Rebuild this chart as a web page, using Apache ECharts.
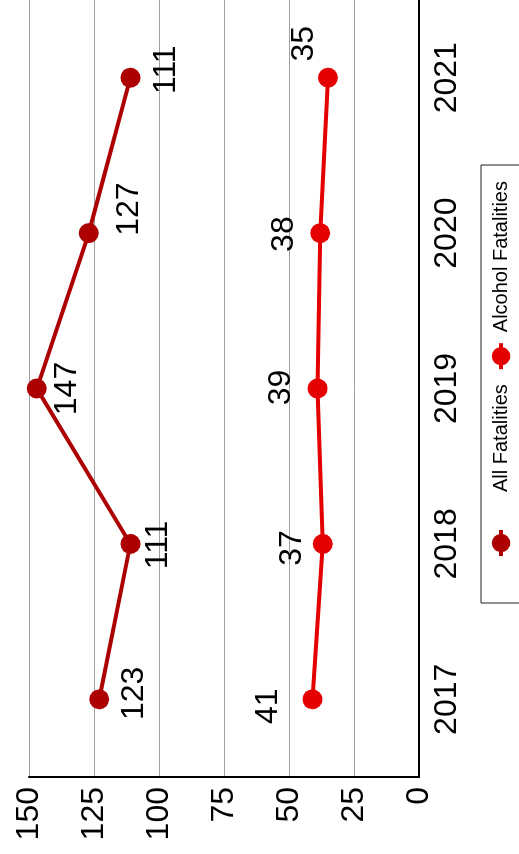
<!DOCTYPE html>
<html><head><meta charset="utf-8">
<script src="https://cdn.jsdelivr.net/npm/echarts@6/dist/echarts.min.js"></script>
<style>
html,body{margin:0;padding:0;width:519px;height:854px;overflow:hidden;background:#fff;}
#chart{position:absolute;left:0;top:0;width:854px;height:519px;transform-origin:0 0;transform:translate(0,854px) rotate(-90deg);}
</style></head><body><div id="chart"></div>
<script>
// ---- data ----
const years = ['2017', '2018', '2019', '2020', '2021'];
const allFatalities = [123, 111, 147, 127, 111];
const alcoholFatalities = [41, 37, 39, 38, 35];
const valueMin = 0, valueMax = 150, valueStep = 25;
const seriesNames = ['All Fatalities', 'Alcohol Fatalities'];

// ---- style ----
const FONT = 'Liberation Sans, Arial, sans-serif';
const allNudge = [[6, 1], [-1, -6], [0, -4], [24, 6], [8, 2]];
const alcNudge = [[-7, -10], [-4, 3], [1, -2], [-1, -2], [34, 10]];
const legendTextGap = [33, 6];

const chart = echarts.init(document.getElementById('chart'), null, {renderer: 'canvas', width: 854, height: 519});
chart.setOption({
  animation: false,
  backgroundColor: '#fff',
  grid: {left: 77, top: 29, width: 781, height: 390, containLabel: false},
  legend: {
    data: seriesNames.map((n, i) => ({name: n, textStyle: {padding: [0, 0, 0, legendTextGap[i]]}})),
    left: 251, top: 481,
    orient: 'horizontal',
    itemWidth: 26, itemHeight: 23, itemGap: 13,
    padding: [10, 16, 12, 45],
    borderColor: '#222', borderWidth: 1, borderRadius: 0,
    lineStyle: {width: 4},
    textStyle: {fontFamily: FONT, fontSize: 20, color: '#000'}
  },
  xAxis: {
    type: 'category', data: years, boundaryGap: true,
    axisLine: {show: true, lineStyle: {color: '#000', width: 2}},
    axisTick: {show: false},
    axisLabel: {fontFamily: FONT, fontSize: 32, color: '#000', margin: 12},
    splitLine: {show: false}
  },
  yAxis: {
    type: 'value', min: valueMin, max: valueMax, interval: valueStep,
    axisLine: {show: true, lineStyle: {color: '#000', width: 2}},
    axisTick: {show: false},
    axisLabel: {fontFamily: FONT, fontSize: 32, color: '#000', margin: 10},
    splitLine: {show: true, lineStyle: {color: '#a0a0a0', width: 1}}
  },
  series: [
    {
      name: seriesNames[0], type: 'line',
      data: allFatalities.map((v, i) => ({value: v, label: {offset: allNudge[i]}})),
      symbol: 'circle', symbolSize: 20,
      lineStyle: {color: '#ad0000', width: 4},
      itemStyle: {color: '#ad0000'},
      label: {show: true, position: 'bottom', distance: 8, fontFamily: FONT, fontSize: 32, color: '#000'}
    },
    {
      name: seriesNames[1], type: 'line',
      data: alcoholFatalities.map((v, i) => ({value: v, label: {offset: alcNudge[i]}})),
      symbol: 'circle', symbolSize: 20,
      lineStyle: {color: '#e50000', width: 4},
      itemStyle: {color: '#e50000'},
      label: {show: true, position: 'top', distance: 8, fontFamily: FONT, fontSize: 32, color: '#000'}
    }
  ]
});
</script></body></html>
